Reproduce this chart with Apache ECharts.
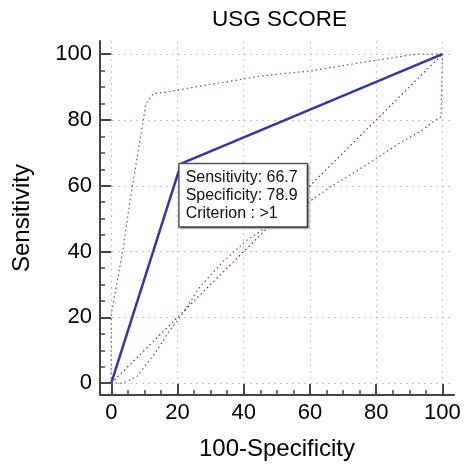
<!DOCTYPE html>
<html><head><meta charset="utf-8">
<script src="https://cdn.jsdelivr.net/npm/echarts@6/dist/echarts.min.js"></script>
<style>html,body{margin:0;padding:0;background:#fff}#c{width:465px;height:466px}</style>
</head><body><div id="c"></div>
<script>
const majorTicks = [0, 20, 40, 60, 80, 100];
const minorTicks = [5, 10, 15, 25, 30, 35, 45, 50, 55, 65, 70, 75, 85, 90, 95];
const rocCurve = [[0, 0], [21.1, 66.7], [100, 100]];
const diagonal = [[0, 0], [100, 100]];
const upperBand = [[0, 0], [0, 21], [3.6, 41], [5.7, 55.7], [10.5, 85], [12.7, 88], [16.8, 88.5], [25.8, 90.1], [34.8, 91.6], [43.8, 93.1], [51.9, 94.1], [61, 95], [74, 97.2], [92, 100], [100, 100]];
const lowerBand = [[0, 0], [3.2, 0], [7.7, 1.9], [10.4, 5.5], [13.2, 9.1], [17.7, 16.1], [21.3, 20.7], [26.8, 29.3], [33.8, 37], [41, 43.5], [50, 49.5], [60.4, 55.6], [66.4, 59.8], [74.4, 64.7], [80.1, 68.3], [86, 72.3], [94, 76.9], [97, 79.3], [99.6, 81], [100, 100]];
const criterionPoint = [21.1, 66.7];
const criterionText = ['Sensitivity: 66.7', 'Specificity: 78.9', 'Criterion : >1'];

const FONT = 'Liberation Sans, Arial, sans-serif';
const axisColor = '#444';
function mainAxis(min, max, isX) {
  return {
    type: 'value', min: min, max: max,
    position: isX ? 'bottom' : 'left',
    name: isX ? '100-Specificity' : 'Sensitivity',
    nameLocation: 'middle',
    nameGap: isX ? 42 : 66,
    nameTextStyle: {fontFamily: FONT, fontSize: 24, color: '#000'},
    axisLine: {show: true, onZero: false, lineStyle: {color: axisColor, width: 2}},
    axisTick: {show: true, inside: true, length: 11, customValues: majorTicks, lineStyle: {color: axisColor, width: 2}},
    axisLabel: {show: true, customValues: majorTicks, margin: isX ? 7 : 8, fontFamily: FONT, fontSize: 22, color: '#000'},
    splitLine: {show: true, lineStyle: {type: [2, 4], color: '#c8c8c8', width: 1}}
  };
}
function minorAxis(min, max, isX) {
  return {
    type: 'value', min: min, max: max,
    position: isX ? 'bottom' : 'left',
    axisLine: {show: false, onZero: false},
    axisTick: {show: true, inside: true, length: 5, customValues: minorTicks, lineStyle: {color: axisColor, width: 1.5}},
    axisLabel: {show: false},
    splitLine: {show: false}
  };
}
const chart = echarts.init(document.getElementById('c'), null, {renderer: 'canvas'});
chart.setOption({
  animation: false,
  backgroundColor: '#fff',
  title: {text: 'USG SCORE', left: 212, top: 8, padding: 0,
    textStyle: {fontFamily: FONT, fontSize: 22.5, fontWeight: 'normal', color: '#000'}},
  grid: {left: 100, right: 11, top: 41, bottom: 71, containLabel: false},
  xAxis: [mainAxis(-3.4, 103.5, true), minorAxis(-3.4, 103.5, true)],
  yAxis: [mainAxis(-3.6, 104, false), minorAxis(-3.6, 104, false)],
  series: [
    {type: 'line', data: diagonal, showSymbol: false, symbol: 'none',
      lineStyle: {color: '#a82020', width: 1.2, type: [1.5, 3]}, z: 2},
    {type: 'line', data: upperBand, showSymbol: false, symbol: 'none',
      lineStyle: {color: '#5050c0', width: 1.2, type: [1.5, 3]}, z: 2},
    {type: 'line', data: lowerBand, showSymbol: false, symbol: 'none',
      lineStyle: {color: '#5050c0', width: 1.2, type: [1.5, 3]}, z: 2},
    {type: 'line', data: rocCurve, showSymbol: false, symbol: 'none',
      lineStyle: {color: '#3535a5', width: 2.5}, z: 3},
    {type: 'scatter', data: [criterionPoint], symbolSize: 1, z: 5,
      itemStyle: {color: 'rgba(0,0,0,0)', opacity: 1},
      emphasis: {disabled: true},
      label: {show: true, opacity: 1, position: [0, 0], offset: [-1, 1], align: 'left', verticalAlign: 'top',
        formatter: criterionText.join('\n'),
        fontFamily: FONT, fontSize: 16, lineHeight: 18, color: '#111',
        backgroundColor: '#ffffff', borderColor: '#555', borderWidth: 1.5,
        padding: [4, 9, 4, 6],
        shadowColor: 'rgba(0,0,0,0.3)', shadowOffsetX: 1.5, shadowOffsetY: 1.5, shadowBlur: 0}}
  ]
});
</script></body></html>
